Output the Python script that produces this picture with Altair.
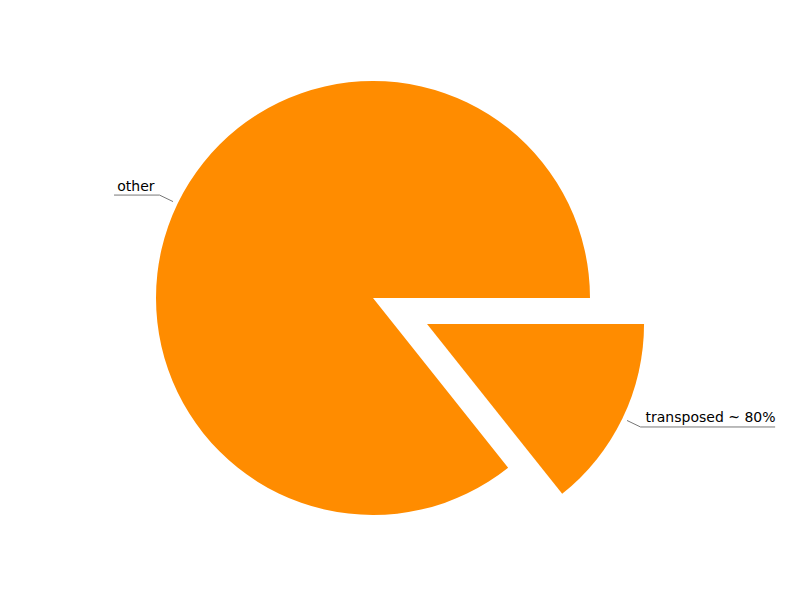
import math
import altair as alt
import pandas as pd

# data
labels = ["transposed ~ 80%", "other"]
values = [14.3, 85.7]
explode_px = [60, 0]

# layout (pixels in plot coordinates)
CX, CY, R = 365, 290, 217
CHAR_W = 8.1

df = pd.DataFrame({"label": labels, "value": values, "explode": explode_px,
                   "order": list(range(len(labels)))})

base = alt.Chart(df).transform_joinaggregate(
    total="sum(value)"
).transform_window(
    cum="sum(value)", sort=[alt.SortField("order")]
).transform_calculate(
    t0=f"PI/2 + 2*PI*(datum.cum - datum.value)/datum.total",
    t1=f"PI/2 + 2*PI*datum.cum/datum.total",
).transform_calculate(
    mid="(datum.t0 + datum.t1)/2",
).transform_calculate(
    cx=f"{CX} + datum.explode*sin(datum.mid)",
    cy=f"{CY} - datum.explode*cos(datum.mid)",
).transform_calculate(
    sx=f"datum.cx + {R + 5}*sin(datum.mid)",
    sy=f"datum.cy - {R + 5}*cos(datum.mid)",
    ex=f"datum.cx + {R + 20}*sin(datum.mid)",
    ey=f"datum.cy - {R + 20}*cos(datum.mid)",
    right="sin(datum.mid) > 0",
).transform_calculate(
    hx=f"datum.right ? datum.ex + 5 + length(datum.label)*{CHAR_W} : datum.ex - 5 - length(datum.label)*{CHAR_W}",
    tx="datum.right ? datum.ex + 5 : datum.ex - 5",
    ty="datum.ey - 4.5",
)

arcs = base.mark_arc(radius=R, color="#FF8C00", stroke=None).encode(
    theta=alt.Theta("t0:Q", scale=None),
    theta2="t1:Q",
    x=alt.X("cx:Q", scale=None),
    y=alt.Y("cy:Q", scale=None),
)

seg1 = base.mark_rule(color="#777777", strokeWidth=1).encode(
    x=alt.X("sx:Q", scale=None), y=alt.Y("sy:Q", scale=None),
    x2="ex:Q", y2="ey:Q",
)
seg2 = base.mark_rule(color="#777777", strokeWidth=1).encode(
    x=alt.X("ex:Q", scale=None), y=alt.Y("ey:Q", scale=None),
    x2="hx:Q", y2="ey:Q",
)

txt_r = base.transform_filter("datum.right").mark_text(
    align="left", baseline="alphabetic", font="DejaVu Sans", fontSize=14, color="black"
).encode(x=alt.X("tx:Q", scale=None), y=alt.Y("ty:Q", scale=None), text="label:N")
txt_l = base.transform_filter("!datum.right").mark_text(
    align="right", baseline="alphabetic", font="DejaVu Sans", fontSize=14, color="black"
).encode(x=alt.X("tx:Q", scale=None), y=alt.Y("ty:Q", scale=None), text="label:N")

chart = alt.layer(arcs, seg1, seg2, txt_r, txt_l).properties(
    width=784, height=584, autosize=alt.AutoSizeParams(type="none"), padding=0
).configure_view(stroke=None)

chart.save("out.html", embed_options={"renderer": "svg", "actions": False})
